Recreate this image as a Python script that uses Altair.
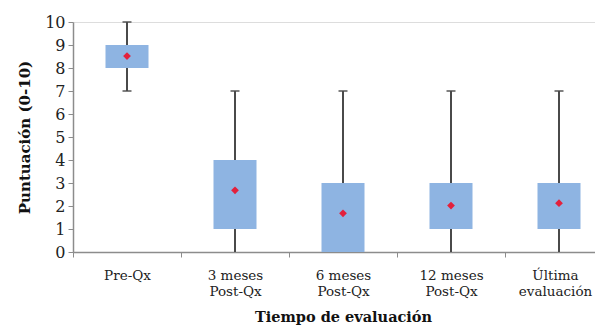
import altair as alt
import pandas as pd

cats = ["Pre-Qx", "3 meses|Post-Qx", "6 meses|Post-Qx", "12 meses|Post-Qx", "Última|evaluación"]
mins = [7, 0, 0, 0, 0]
q1s = [8, 1, 0, 1, 1]
q3s = [9, 4, 3, 3, 3]
maxs = [10, 7, 7, 7, 7]
means = [8.52, 2.68, 1.68, 2.02, 2.12]

df = pd.DataFrame({"cat": cats, "min": mins, "q1": q1s, "q3": q3s, "max": maxs, "mean": means})
caps = pd.DataFrame(
    [{"cat": c, "v": mx} for c, mx in zip(cats, maxs)]
    + [{"cat": c, "v": mn} for c, mn in zip(cats, mins) if mn > 0]
)

FONT = "DejaVu Serif"
xaxis = alt.Axis(
    labelExpr="split(datum.label, '|')",
    labelAngle=0,
    labelFont=FONT,
    labelFontSize=13.5,
    labelColor="#222222",
    labelLineHeight=16,
    labelPadding=11,
    labelOffset={"condition": {"test": "datum.value == '%s'" % cats[-1], "value": -4}, "value": 0},
    tickSize=5,
    tickColor="#8c8c8c",
    tickBand="extent",
    domainColor="#8c8c8c",
    domainWidth=1.5,
    titleFont=FONT,
    titleFontSize=14.5,
    titleFontWeight="bold",
    titleColor="#111111",
    titlePadding=13,
)
xscale = alt.Scale(range=[0, 540], paddingInner=0, paddingOuter=0)
yscale = alt.Scale(domain=[0, 10], nice=False)
yaxis = alt.Axis(
    values=list(range(0, 11)),
    tickCount=11,
    grid=False,
    labelFont=FONT,
    labelFontSize=16,
    labelColor="#222222",
    labelPadding=3,
    labelOverlap=False,
    tickSize=5,
    tickColor="#8c8c8c",
    domainColor="#8c8c8c",
    domainWidth=1.5,
    title="Puntuación (0-10)",
    titleFont=FONT,
    titleFontSize=15,
    titleFontWeight="bold",
    titleColor="#111111",
    titlePadding=12,
)

def X():
    return alt.X("cat:N", sort=cats, title="Tiempo de evaluación", scale=xscale, axis=xaxis)

base = alt.Chart(df)
whisk = base.mark_rule(color="#4a4a4a", strokeWidth=2).encode(
    x=X(), y=alt.Y("min:Q", scale=yscale, axis=yaxis), y2="max:Q"
)
capm = alt.Chart(caps).mark_tick(color="#4a4a4a", size=9, thickness=2).encode(
    x=X(), y=alt.Y("v:Q", scale=yscale, axis=yaxis)
)
box = base.mark_bar(color="#8eb4e2", size=43).encode(
    x=X(), y=alt.Y("q1:Q", scale=yscale, axis=yaxis), y2="q3:Q"
)
mean = base.mark_point(shape="diamond", filled=True, color="#e3203c", size=60, opacity=1).encode(
    x=X(), y=alt.Y("mean:Q", scale=yscale, axis=yaxis)
)

chart = (
    alt.layer(whisk, capm, box, mean)
    .properties(
        width=522,
        height=230,
        autosize=alt.AutoSizeParams(type="none"),
        padding={"left": 65, "top": 14, "right": 0, "bottom": 77},
    )
    .configure_view(stroke=None)
    .configure(background="white")
)

chart.save("out.html", embed_options={"renderer": "svg", "actions": False})
